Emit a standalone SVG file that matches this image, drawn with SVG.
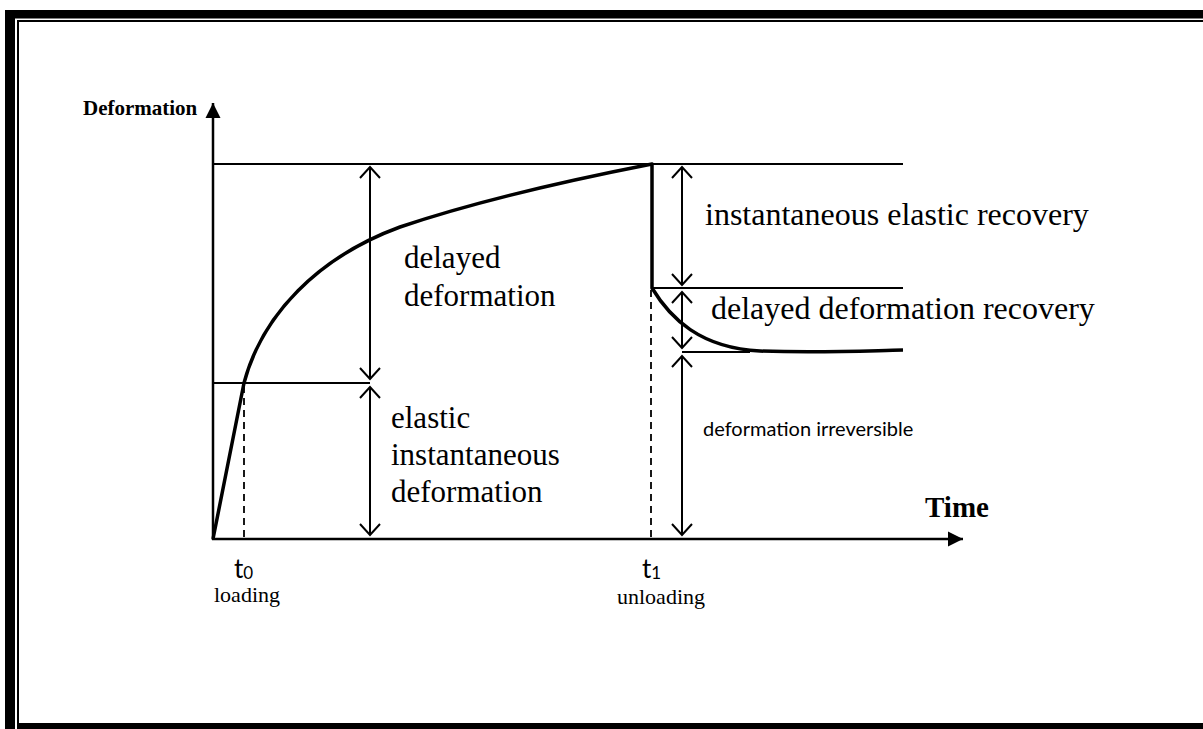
<svg xmlns="http://www.w3.org/2000/svg" width="1203" height="729" viewBox="0 0 1203 729">
<style>
.thin{stroke:#000;stroke-width:1.8;fill:none}
.axis{stroke:#000;stroke-width:2.5;fill:none}
.dash{stroke:#000;stroke-width:1.8;stroke-dasharray:7,5;fill:none}
.curve{stroke:#000;stroke-width:3.5;fill:none;stroke-linejoin:round}
.dim{stroke:#000;stroke-width:2;fill:none;marker-start:url(#oa);marker-end:url(#oa)}
.lbl{font-family:"Liberation Serif","Times New Roman",serif;font-size:31px;fill:#000}
.lblr{font-family:"Liberation Serif","Times New Roman",serif;font-size:32px;fill:#000}
.small{font-family:"Liberation Serif","Times New Roman",serif;font-size:22px;fill:#000}
.sans{font-family:Lato,"Open Sans",sans-serif;fill:#000}
.bold{font-family:"Liberation Serif","Times New Roman",serif;font-weight:bold;fill:#000}
</style>
<defs>
<marker id="oa" viewBox="-13 -12 15 24" refX="0" refY="0" markerWidth="15" markerHeight="24" markerUnits="userSpaceOnUse" orient="auto-start-reverse">
<path d="M-11,-10 L0,0 L-11,10" fill="none" stroke="#000" stroke-width="2"/>
</marker>
<marker id="fa" viewBox="-15 -8 16 16" refX="0" refY="0" markerWidth="16" markerHeight="16" markerUnits="userSpaceOnUse" orient="auto">
<path d="M-15,-7.5 L0,0 L-15,7.5 Z" fill="#000"/>
</marker>
</defs>
<rect width="1203" height="729" fill="#fff"/>
<g id="frame">
<rect x="5" y="10" width="1198" height="8.5" fill="#000"/>
<rect x="5" y="10" width="10" height="719" fill="#000"/>
<rect x="17" y="723" width="1186" height="6" fill="#000"/>
<rect x="17" y="20" width="1186" height="2" fill="#000"/>
<rect x="17" y="20" width="2" height="703" fill="#000"/>
</g>
<g id="connectors">
<line class="axis" x1="213" y1="540" x2="213" y2="103" marker-end="url(#fa)"/>
<line class="axis" x1="212" y1="539" x2="963" y2="539" marker-end="url(#fa)"/>
<line class="thin" x1="213" y1="164" x2="903" y2="164"/>
<line class="thin" x1="213" y1="383" x2="370" y2="383"/>
<line class="thin" x1="652" y1="288" x2="903" y2="288"/>
<line class="thin" x1="682" y1="352" x2="750" y2="352"/>
<line class="dash" x1="244" y1="386" x2="244" y2="539"/>
<line class="dash" x1="651" y1="290" x2="651" y2="539"/>
<line class="dim" x1="370" y1="167" x2="370" y2="379"/>
<line class="dim" x1="370" y1="387" x2="370" y2="535"/>
<line class="dim" x1="682" y1="167" x2="682" y2="285"/>
<line class="dim" x1="682" y1="292" x2="682" y2="348"/>
<line class="dim" x1="682" y1="356" x2="682" y2="535"/>
<path class="curve" d="M213,539 L244,383 C262,315 318,257 400,227 C480,200 570,180 652,164 L652,288 C670,318 700,348 760,351 C820,353 860,351 903,350"/>
</g>
<g id="labels">
<text class="bold" x="83" y="115" font-size="21">Deformation</text>
<text class="bold" x="925" y="517" font-size="29">Time</text>
<text class="lbl" x="404" y="268">delayed</text>
<text class="lbl" x="404" y="306">deformation</text>
<text class="lbl" x="391" y="428">elastic</text>
<text class="lbl" x="391" y="465">instantaneous</text>
<text class="lbl" x="391" y="502">deformation</text>
<text class="lblr" x="705" y="225">instantaneous elastic recovery</text>
<text class="lblr" x="711" y="319">delayed deformation recovery</text>
<text class="sans" x="703" y="436" font-size="20">deformation irreversible</text>
<text class="sans" x="234" y="578" font-size="26">t<tspan font-size="17" dy="1">0</tspan></text>
<text class="small" x="214" y="602">loading</text>
<text class="sans" x="642" y="578" font-size="26">t<tspan font-size="17" dy="1">1</tspan></text>
<text class="small" x="617" y="604">unloading</text>
</g>
</svg>
